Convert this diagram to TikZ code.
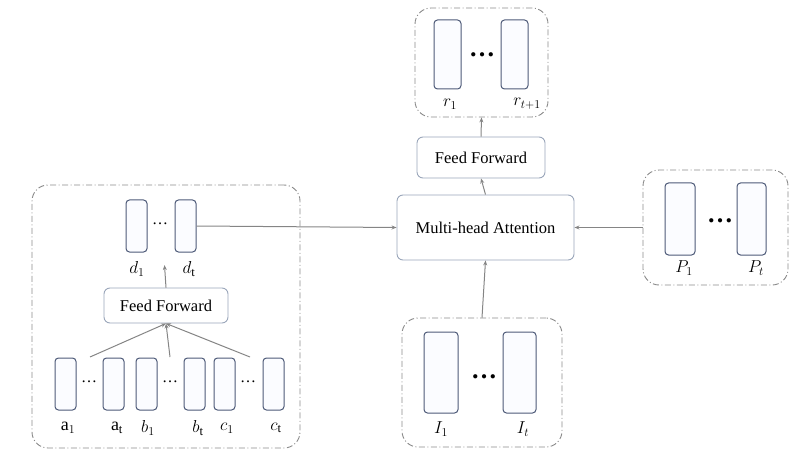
\documentclass[tikz,border=0pt]{standalone}
\usepackage{fontspec}
\setmainfont{Liberation Serif}
\usetikzlibrary{arrows.meta}
\definecolor{vecc}{HTML}{4E5A78}
\definecolor{vecfill}{HTML}{FBFCFF}
\definecolor{grpc}{HTML}{8A8A8A}
\definecolor{boxc}{HTML}{9AA6BA}
\definecolor{arrc}{HTML}{858585}
\tikzset{
  vec/.style={draw=vecc, fill=vecfill, line width=1pt, rounded corners=3.5pt, inner sep=0pt},
  grp/.style={draw=grpc, line width=0.9pt, rounded corners=16pt, dash pattern=on 6pt off 2.5pt on 1pt off 2.5pt, inner sep=0pt},
  blk/.style={draw=boxc, fill=white, line width=0.9pt, rounded corners=6pt, inner sep=0pt, font=\fontsize{16.5}{19}\selectfont},
  lbl/.style={font=\fontsize{18}{20}\selectfont, inner sep=0pt},
  sdots/.style={font=\fontsize{16}{18}\selectfont, inner sep=0pt},
  bdots/.style={font=\fontsize{26}{26}\selectfont\bfseries, inner sep=0pt},
  arr/.style={draw=arrc, line width=1pt, -{Stealth[length=5pt,width=4pt]}},
}
\begin{document}
\begin{tikzpicture}[x=1pt,y=-1pt]
\useasboundingbox (0,0) rectangle (799,470);
% ---- top r group
\node[grp, minimum width=133pt, minimum height=109pt] (rg) at (481.5,62.5) {};
\node[vec, minimum width=27pt, minimum height=69pt] (r1) at (447.5,54.5) {};
\node[vec, minimum width=27pt, minimum height=69pt] (rt) at (514.5,54.5) {};
\node[bdots] (rd) at (482,55) {…};
\node[lbl] (r1l) at (450,104) {$r_1$};
\node[lbl] (rtl) at (527,104) {$r_{t+1}$};
% ---- feed forward (top) and attention
\node[blk, minimum width=128pt, minimum height=41pt] (ff) at (481,157.5) {Feed Forward};
\node[blk, minimum width=177pt, minimum height=65pt] (mha) at (485.5,227.5) {Multi-head Attention};
% ---- I group
\node[grp, minimum width=160pt, minimum height=129pt] (ig) at (482,382.5) {};
\node[vec, minimum width=34pt, minimum height=81pt] (i1) at (441,372.5) {};
\node[vec, minimum width=33pt, minimum height=81pt] (it) at (519.5,372.5) {};
\node[bdots] (id) at (484,377) {…};
\node[lbl] (i1l) at (441,429) {$I_1$};
\node[lbl] (itl) at (523,429) {$I_t$};
% ---- P group
\node[grp, minimum width=145pt, minimum height=115pt] (pg) at (715.5,227.5) {};
\node[vec, minimum width=30pt, minimum height=72pt] (p1) at (680,219) {};
\node[vec, minimum width=29pt, minimum height=72pt] (pt) at (751.5,219) {};
\node[bdots] (pd) at (720,221) {…};
\node[lbl] (p1l) at (684,268) {$P_1$};
\node[lbl] (ptl) at (756,268) {$P_t$};
% ---- left group
\node[grp, minimum width=268pt, minimum height=263pt] (lg) at (166,316.5) {};
\node[vec, minimum width=21pt, minimum height=52pt] (d1) at (136.5,226) {};
\node[vec, minimum width=21pt, minimum height=52pt] (dt) at (185.5,226) {};
\node[sdots] (dd) at (160,224) {…};
\node[lbl] (d1l) at (137,269) {$d_1$};
\node[lbl] (dtl) at (189,269) {$d_{\mathrm{t}}$};
\node[blk, minimum width=124pt, minimum height=35pt] (ffs) at (166,305.5) {Feed Forward};
\foreach \n/\x in {a1/65.5, at/113.5, b1/146.5, bt/194.5, c1/224.5, ct/273.5}
  \node[vec, minimum width=21pt, minimum height=52pt] (\n) at (\x,384) {};
\node[sdots] (ad) at (89,382) {…};
\node[sdots] (bd) at (170,382) {…};
\node[sdots] (cd) at (248,382) {…};
\node[lbl] (a1l) at (68,428) {$\mathrm{a}_1$};
\node[lbl] (atl) at (117,428) {$\mathrm{a}_{\mathrm{t}}$};
\node[lbl] (b1l) at (148,428) {$b_1$};
\node[lbl] (btl) at (198,428) {$b_{\mathrm{t}}$};
\node[lbl] (c1l) at (227,428) {$c_1$};
\node[lbl] (ctl) at (276,428) {$c_{\mathrm{t}}$};
\coordinate (sa) at (90,357);
\coordinate (sb) at (170,357);
\coordinate (sc) at (250,357);
\coordinate (dtop) at (164.5,265);
% ---- connectors
\draw[arr] (mha.north) -- (ff.south);
\draw[arr] (ff.north) -- (rg.south);
\draw[arr] (ig.north) -- (mha.south);
\draw[arr] (pg.west) -- (mha.east);
\draw[arr] (dt.east) -- (mha.west);
\draw[arr] (ffs.north) -- (dtop);
\draw[arr] (sa) -- (ffs.south);
\draw[arr] (sb) -- (ffs.south);
\draw[arr] (sc) -- (ffs.south);
\end{tikzpicture}
\end{document}
